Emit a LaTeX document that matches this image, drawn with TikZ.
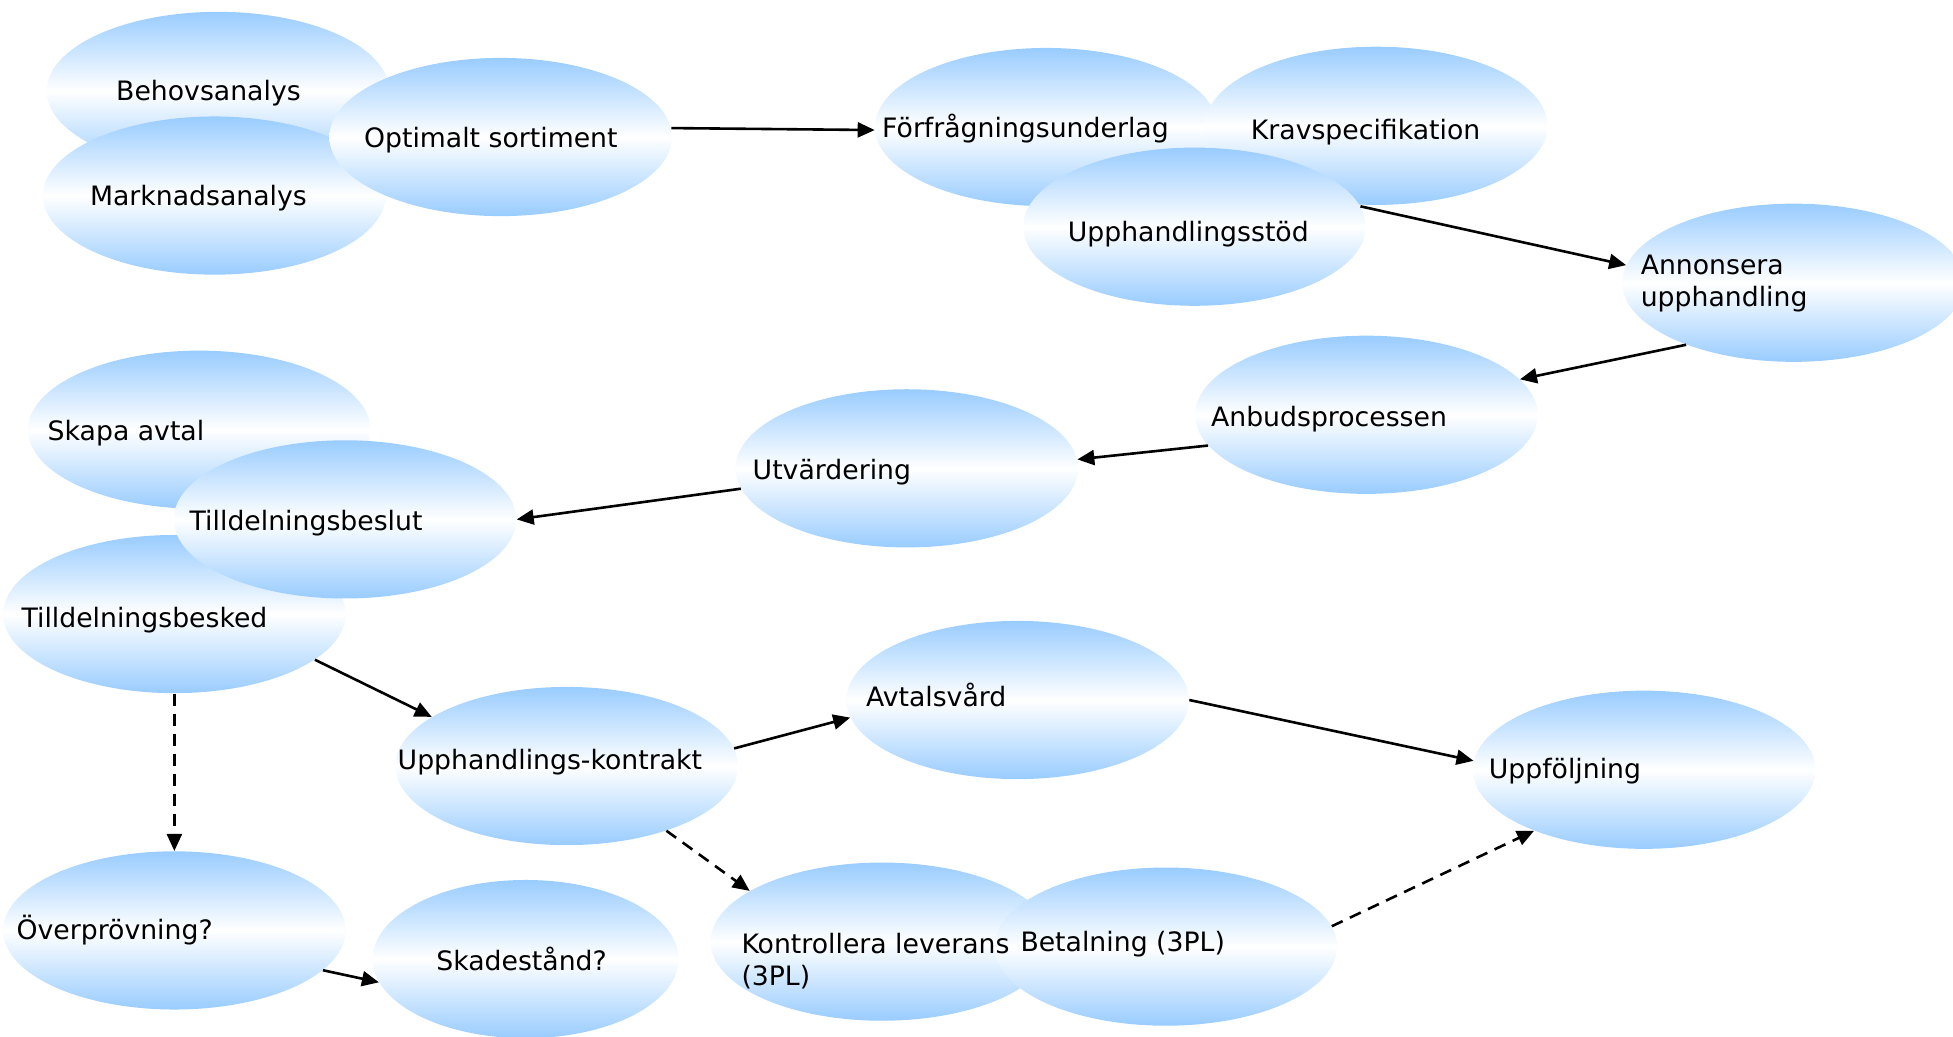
\documentclass[tikz,border=0pt]{standalone}
\usepackage{fontspec}
\setmainfont{DejaVu Sans}
\usetikzlibrary{shapes.geometric,arrows.meta}
\definecolor{bub}{RGB}{153,204,255}
\begin{document}
\begin{tikzpicture}[x=0.6228pt,y=-0.6228pt,
  blob/.style={ellipse, minimum width=171.3pt, minimum height=79.1pt, inner sep=0pt,
    top color=bub, bottom color=bub, middle color=white},
  lbl/.style={anchor=west, inner sep=0pt, yshift=-2.4pt, font=\fontsize{13.35pt}{16.2pt}\selectfont,
    text height=0.76em, text depth=0.24em},
  lbltwo/.style={anchor=west, inner sep=0pt, yshift=-2.4pt, font=\fontsize{13.35pt}{16.2pt}\selectfont, align=left},
  conn/.style={line width=1.3pt, -{Triangle[length=8.5pt,width=7.5pt]}},
  dconn/.style={conn, dash pattern=on 6pt off 4pt}]
\useasboundingbox (0,0) rectangle (1568,832);
\clip (0,0) rectangle (1568,832);
% shapes
\node[blob] (beh) at (175,73) {};
\node[blob] (mar) at (172,157) {};
\node[blob] (opt) at (402,110) {};
\node[blob] (forf) at (840,102) {};
\node[blob] (krav) at (1105,101) {};
\node[blob] (ups) at (959,182) {};
\node[blob] (ann) at (1440,227) {};
\node[blob] (anb) at (1097,333) {};
\node[blob] (utv) at (728,376) {};
\node[blob] (ska) at (160,345) {};
\node[blob] (tbk) at (140,493) {};
\node[blob] (tbs) at (277,417) {};
\node[blob] (upk) at (455,615) {};
\node[blob] (avt) at (817,562) {};
\node[blob] (upf) at (1320,618) {};
\node[blob] (ovp) at (140,747) {};
\node[blob, minimum width=153pt] (skd) at (422,770) {};
\node[blob] (kon) at (708,756) {};
\node[blob] (bet) at (936,760) {};
% texts
\node[lbl] (tbeh) at (93,73) {Behovsanalys};
\node[lbl] (tmar) at (72,157) {Marknadsanalys};
\node[lbl] (topt) at (292,110) {Optimalt sortiment};
\node[lbl] (tforf) at (708,102) {Förfrågningsunderlag};
\node[lbl] (tkrav) at (1004,104) {Kravspecifikation};
\node[lbl] (tups) at (857,186) {Upphandlingsstöd};
\node[lbltwo] (tann) at (1317,224) {Annonsera\\upphandling};
\node[lbl] (tanb) at (972,334) {Anbudsprocessen};
\node[lbl] (tutv) at (604,377) {Utvärdering};
\node[lbl] (tska) at (38,346) {Skapa avtal};
\node[lbl] (ttbs) at (152,418) {Tilldelningsbeslut};
\node[lbl] (ttbk) at (17,496) {Tilldelningsbesked};
\node[lbl] (tupk) at (319,610) {Upphandlings-kontrakt};
\node[lbl] (tavt) at (695,559) {Avtalsvård};
\node[lbl] (tupf) at (1195,617) {Uppföljning};
\node[lbl] (tovp) at (13,746) {Överprövning?};
\node[lbl] (tskd) at (350,771) {Skadestånd?};
\node[lbltwo] (tkon) at (595,768) {Kontrollera leverans\\(3PL)};
\node[lbl] (tbet) at (819,756) {Betalning (3PL)};
% connectors
\draw[conn] (opt.3) -- (forf.181);
\draw[conn] (ups.7) -- (ann.174);
\draw[conn] (ann.210) -- (anb.13);
\draw[conn] (anb.191) -- (utv.3);
\draw[conn] (utv.187) -- (tbs.0);
\draw[conn] (tbk.342) -- (upk.160);
\draw[dconn] (tbk.south) -- (ovp.north);
\draw[conn] (upk.6) -- (avt.186);
\draw[conn] (avt.0) -- (upf.177);
\draw[dconn] (upk.327) -- (kon.159);
\draw[dconn] (bet.7) -- (upf.209);
\draw[conn] (ovp.345) -- (skd.189);
\end{tikzpicture}
\end{document}
